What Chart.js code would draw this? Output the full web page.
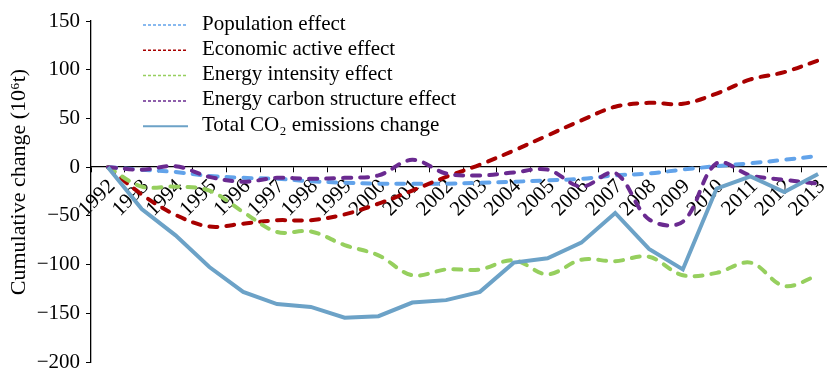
<!DOCTYPE html>
<html>
<head>
<meta charset="utf-8">
<script src="https://cdn.jsdelivr.net/npm/chart.js@4/dist/chart.umd.min.js"></script>
<style>
  html, body { margin: 0; padding: 0; background: #fff; overflow: hidden; }
  #wrap { width: 827px; height: 370px; position: relative; overflow: hidden; }
  #chart { position: absolute; left: 0; top: 0; }
</style>
</head>
<body>
<div id="wrap"><canvas id="chart" width="835" height="370"></canvas></div>
<script>
// Decomposition of cumulative CO2 emission change, 1992-2013 (10^6 t)
const years = ['1992','1993','1994','1995','1996','1997','1998','1999','2000','2001','2002',
               '2003','2004','2005','2006','2007','2008','2009','2010','2011','2012','2013'];

const populationEffect = [0, -2.6, -5, -9, -11, -12, -14.5, -16, -17, -17, -17,
                          -16, -15, -13.5, -12, -8.5, -6.5, -2.5, 1, 4, 7.5, 11.5];
const economicEffect   = [0, -28, -49, -61, -58, -54.5, -54.5, -48.5, -37.5, -24, -10,
                          2.5, 17, 32.5, 48, 62, 66, 65, 75.5, 90, 97.5, 109.5];
const intensityEffect  = [0, -20, -20, -24, -46, -66.5, -66, -80, -90.5, -111, -105,
                          -105, -95.5, -110, -95, -96.5, -92, -111, -108.5, -98, -122, -111];
const carbonEffect     = [0, -2.6, 1, -10, -15, -11, -12, -11, -8.5, 7.5, -6.5,
                          -8.5, -5.5, -2.5, -20, -6, -53.5, -56, 4, -8.5, -13, -17];
const totalChange      = [0, -43, -70, -102.5, -128, -140.5, -143.5, -154.5, -153, -139, -136.5,
                          -128, -98, -93.5, -77.5, -47, -84, -105, -22, -9.5, -25.5, -7];

const yTicks = { min: -200, max: 150, step: 50 };

const seriesLabels = ['Population effect', 'Economic active effect', 'Energy intensity effect',
                      'Energy carbon structure effect', 'Total CO\u2082 emissions change'];
const yTitle = 'Cumulative change (10\u2076t)';

const serif = "'Liberation Serif', 'Times New Roman', Times, serif";

function dashed(label, data, color, order) {
  return {
    label, data, order,
    borderColor: color, backgroundColor: color,
    borderWidth: 4, borderDash: [8, 9], borderCapStyle: 'round', borderJoinStyle: 'round',
    tension: 0.35, pointRadius: 0, fill: false
  };
}

// Slanted year labels hanging under the zero line (drawn beneath the series lines)
const yearLabels = {
  id: 'yearLabels',
  beforeDatasetsDraw(chart) {
    const ctx = chart.ctx;
    const xs = chart.scales.x, ys = chart.scales.y;
    const zeroY = ys.getPixelForValue(0);
    ctx.save();
    ctx.font = '21px ' + serif;
    ctx.fillStyle = '#000';
    ctx.textAlign = 'right';
    ctx.textBaseline = 'middle';
    xs.ticks.forEach((t, i) => {
      const px = xs.getPixelForTick(i);
      ctx.save();
      ctx.translate(px + 4, zeroY + 16);
      ctx.rotate(-Math.PI / 4);
      ctx.fillText(xs.getLabelForValue(t.value), 0, 0);
      ctx.restore();
    });
    ctx.restore();
  }
};

// Inner legend and rotated y-axis title
const annotations = {
  id: 'annotations',
  afterDraw(chart) {
    const ctx = chart.ctx;
    ctx.save();
    ctx.font = '21px ' + serif;
    ctx.fillStyle = '#000';
    ctx.textBaseline = 'middle';

    const x0 = 143, x1 = 188, tx = 202, y0 = 24, dy = 25.3;
    ctx.textAlign = 'left';
    chart.data.datasets.forEach((ds, i) => {
      const y = y0 + i * dy;
      ctx.beginPath();
      ctx.strokeStyle = ds.borderColor;
      if (ds.borderDash && ds.borderDash.length) {
        ctx.lineWidth = 1.5;
        ctx.setLineDash([3, 2]);
      } else {
        ctx.lineWidth = 2;
        ctx.setLineDash([]);
      }
      ctx.moveTo(x0, y + 1);
      ctx.lineTo(x1, y + 1);
      ctx.stroke();
      ctx.setLineDash([]);
      ctx.fillText(ds.label, tx, y);
    });

    ctx.font = '22px ' + serif;
    ctx.translate(19, 182);
    ctx.rotate(-Math.PI / 2);
    ctx.textAlign = 'center';
    ctx.fillText(yTitle, 0, 0);
    ctx.restore();
  }
};

new Chart(document.getElementById('chart'), {
  type: 'line',
  data: {
    labels: years,
    datasets: [
      dashed(seriesLabels[0], populationEffect, '#62A3EA', 5),
      dashed(seriesLabels[1], economicEffect, '#A80000', 4),
      dashed(seriesLabels[2], intensityEffect, '#96CF5E', 3),
      dashed(seriesLabels[3], carbonEffect, '#6A2A90', 2),
      {
        label: seriesLabels[4], data: totalChange, order: 1,
        borderColor: '#6CA2C7', backgroundColor: '#6CA2C7',
        borderWidth: 4, tension: 0, pointRadius: 0, fill: false,
        borderJoinStyle: 'miter'
      }
    ]
  },
  options: {
    responsive: false,
    animation: false,
    layout: { padding: { top: 21, right: 0, bottom: 8, left: 0 } },
    plugins: { legend: { display: false }, tooltip: { enabled: false } },
    scales: {
      x: {
        type: 'category',
        position: { y: 0 },
        offset: true,
        afterFit(scale) { scale.paddingLeft = 0; scale.paddingRight = 0; },
        grid: { offset: true, drawOnChartArea: false, drawTicks: true, tickLength: 5, color: '#000' },
        border: { display: true, color: '#000', width: 1.3 },
        ticks: { display: false, autoSkip: false }
      },
      y: {
        min: yTicks.min, max: yTicks.max,
        afterFit(scale) { scale.width = 91; scale.paddingTop = 0; scale.paddingBottom = 0; },
        grid: { drawOnChartArea: false, drawTicks: true, tickLength: 5, color: '#000' },
        border: { display: true, color: '#000', width: 1.3 },
        ticks: {
          stepSize: yTicks.step, color: '#000', padding: 6,
          font: { family: serif, size: 21 },
          callback: v => (v < 0 ? '\u2212' + Math.abs(v) : String(v))
        }
      }
    }
  },
  plugins: [yearLabels, annotations]
});
</script>
</body>
</html>
